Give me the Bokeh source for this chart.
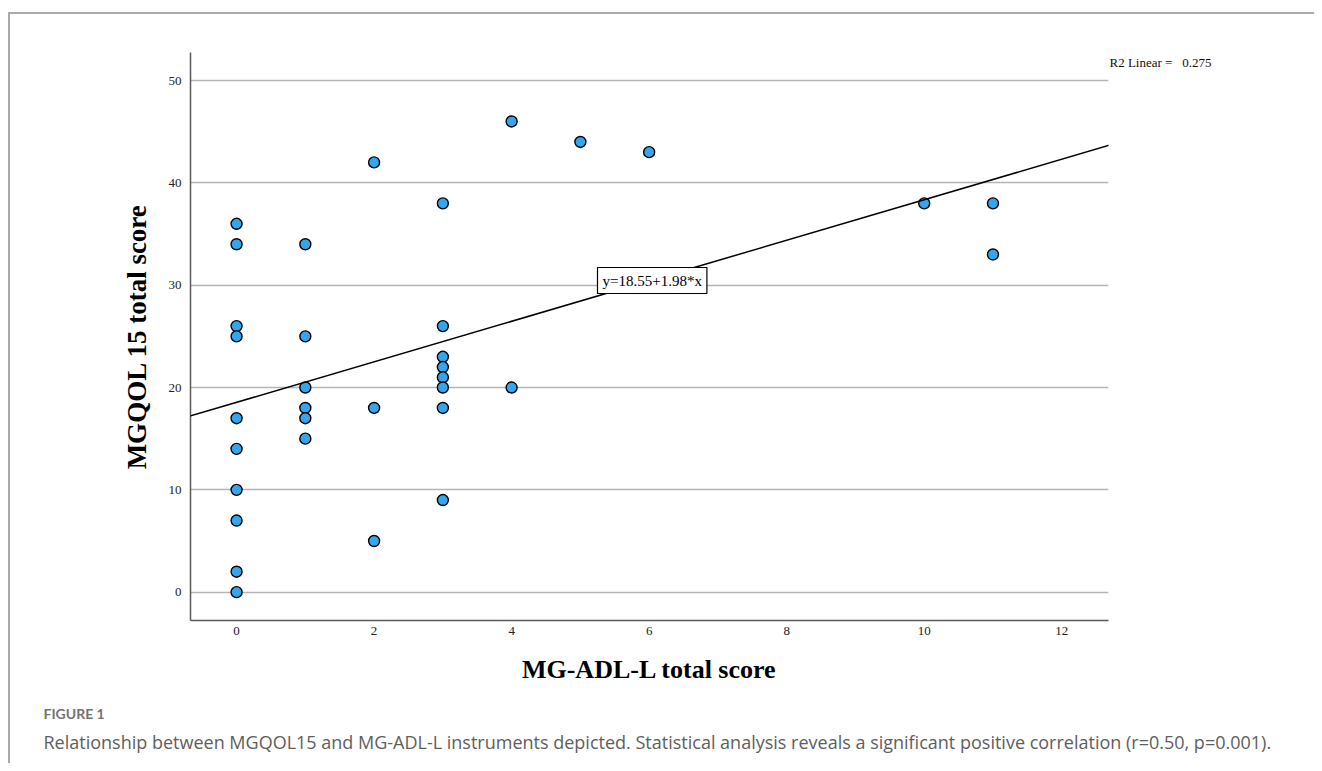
from bokeh.plotting import figure
from bokeh.models import Label, Slope, FixedTicker, Range1d, Title
from bokeh.embed import file_html
from bokeh.resources import INLINE

# ---- data ----
adl_score = [0, 0, 0, 0, 0, 0, 0, 0, 0, 0,
             1, 1, 1, 1, 1, 1,
             2, 2, 2,
             3, 3, 3, 3, 3, 3, 3, 3,
             4, 4,
             5, 6, 10, 11, 11]
qol_score = [36, 34, 26, 25, 17, 14, 10, 7, 2, 0,
             34, 25, 20, 18, 17, 15,
             42, 18, 5,
             38, 26, 23, 22, 21, 20, 18, 9,
             46, 20,
             44, 43, 38, 38, 33]
x_ticks = [0, 2, 4, 6, 8, 10, 12]
y_ticks = [0, 10, 20, 30, 40, 50]
fit_intercept = 18.55
fit_slope = 1.98
r2_linear = 0.275
equation_text = "y=18.55+1.98*x"
x_title = "MG-ADL-L total score"
y_title = "MGQOL 15 total score"
fig_label = "FIGURE 1"
caption_text = ("Relationship between MGQOL15 and MG-ADL-L instruments depicted. "
                "Statistical analysis reveals a significant positive correlation "
                "(r=0.50, p=0.001).")

SERIF = "Liberation Serif"

W, H = 1314, 763
FL, FR, FT, FB = 190, 1108, 52, 620
X0, X1, Y0, Y1 = -0.67, 12.68, -2.77, 52.74


def dx(px):
    return X0 + (px - FL) / (FR - FL) * (X1 - X0)


def dy(py):
    return Y1 - (py - FT) / (FB - FT) * (Y1 - Y0)


p = figure(width=W, height=H,
           x_range=Range1d(X0, X1), y_range=Range1d(Y0, Y1),
           output_backend="svg", toolbar_location=None,
           min_border_left=FL, min_border_right=W - FR,
           min_border_top=FT, min_border_bottom=H - FB)
p.outline_line_color = None
p.background_fill_color = "white"
p.border_fill_color = None
# panel border (grey lines at left and top), drawn as the page background
p.styles = {
    "background": ("linear-gradient(#aaaaaa, #aaaaaa) 8px 12px / 2px 100% no-repeat, "
                   "linear-gradient(#aaaaaa, #aaaaaa) 8px 12px / 100% 2px no-repeat, "
                   "white"),
}

p.xgrid.visible = False
p.ygrid.grid_line_color = "#b4b4b4"
p.ygrid.grid_line_width = 1.3
p.ygrid.ticker = FixedTicker(ticks=y_ticks)
p.xaxis.ticker = FixedTicker(ticks=x_ticks)
p.yaxis.ticker = FixedTicker(ticks=y_ticks)

for ax in (p.xaxis, p.yaxis):
    ax.axis_line_color = "#5a5a5a"
    ax.axis_line_width = 1.5
    ax.major_tick_out = 0
    ax.major_tick_in = 0
    ax.minor_tick_out = 0
    ax.minor_tick_in = 0
    ax.major_tick_line_color = None
    ax.minor_tick_line_color = None
    ax.major_label_text_font = SERIF
    ax.major_label_text_font_size = "13px"
    ax.major_label_text_color = "#222222"
    ax.axis_label_text_font = SERIF
    ax.axis_label_text_font_style = "bold"
    ax.axis_label_text_color = "black"

p.xaxis.axis_label = x_title
p.yaxis.axis_label = y_title
p.xaxis.axis_label_text_font_size = "26px"
p.yaxis.axis_label_text_font_size = "27px"
p.xaxis.major_label_standoff = 6
p.xaxis.axis_label_standoff = 17
p.yaxis.major_label_standoff = 9
p.yaxis.axis_label_standoff = 14

# regression line
p.add_layout(Slope(gradient=fit_slope, y_intercept=fit_intercept,
                   line_color="black", line_width=1.5))

# points
p.scatter(adl_score, qol_score, size=11, fill_color="#33a6ee",
          line_color="black", line_width=1.4)

# equation box
p.add_layout(Label(x=dx(597), y=dy(280), text=equation_text,
                   text_font=SERIF, text_font_size="15px", text_color="black",
                   text_align="left", text_baseline="middle",
                   background_fill_color="white", border_line_color="black",
                   border_line_width=1.2, padding=5))

# R2 text, right of the frame
p.add_layout(Label(x=1, y=FB - 62, x_units="screen", y_units="screen",
                   text=f"R2 Linear =\u00a0\u00a0\u00a0{r2_linear:.3f}", text_font=SERIF,
                   text_font_size="13px", text_baseline="middle", text_align="left",
                   text_color="#111111"), "right")

# caption
p.add_layout(Title(text=fig_label, align="left", offset=43 - FL, standoff=33,
                   text_font="Lato", text_font_size="14px", text_font_style="bold",
                   text_color="#737373"), "below")
p.add_layout(Title(text=caption_text, align="left", offset=43 - FL, standoff=-30,
                   text_font="Open Sans", text_font_size="18px", text_font_style="normal",
                   text_color="#5e5e5e"), "below")

open("out.html", "w").write(file_html(p, INLINE))
